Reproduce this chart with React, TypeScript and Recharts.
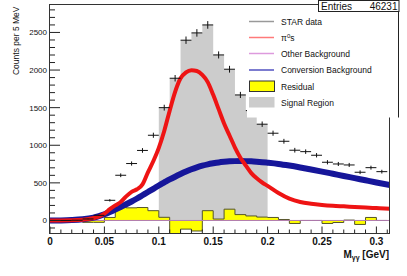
import { ComposedChart, Area, Line, Scatter, ErrorBar, XAxis, YAxis } from "recharts";

const W = 407;
const H = 276;
const FONT = "'Liberation Sans', Arial, Helvetica, sans-serif";

// STAR data: bin centres (GeV), counts per bin, stat. errors
const binCentres = [
  0.005, 0.015, 0.025, 0.035, 0.045, 0.055, 0.065, 0.075, 0.085, 0.095,
  0.105, 0.115, 0.125, 0.135, 0.145, 0.155, 0.165, 0.175, 0.185, 0.195,
  0.205, 0.215, 0.225, 0.235, 0.245, 0.255, 0.265, 0.275, 0.285, 0.295, 0.305,
];
const starCounts = [
  0, 0, 3, 20, 68, 268, 601, 757, 931, 1133,
  1500, 1891, 2397, 2494, 2600, 2201, 2011, 1669, 1461, 1280,
  1160, 1053, 934, 915, 867, 774, 751, 738, 641, 702, 649,
];
const starErrors = [
  0, 0, 2, 4, 8, 16, 25, 28, 31, 34,
  39, 43, 49, 50, 51, 47, 45, 41, 38, 36,
  34, 32, 31, 30, 29, 28, 27, 27, 25, 26, 25,
];
const binHalfWidth = 0.005;

// signal region (0.10 - 0.20 GeV), left bin edges + closing edge
const signalEdges = [0.1, 0.11, 0.12, 0.13, 0.14, 0.15, 0.16, 0.17, 0.18, 0.19, 0.2];
const signalCounts = [1500, 1891, 2397, 2494, 2600, 2201, 2011, 1669, 1461, 1280, 1280];

// residual histogram, left bin edges + closing edge
const residualEdges = [
  0, 0.01, 0.02, 0.03, 0.04, 0.05, 0.06, 0.07, 0.08, 0.09,
  0.1, 0.11, 0.12, 0.13, 0.14, 0.15, 0.16, 0.17, 0.18, 0.19,
  0.2, 0.21, 0.22, 0.23, 0.24, 0.25, 0.26, 0.27, 0.28, 0.29, 0.3, 0.31,
];
const residualCounts = [
  0, 0, 0, -25, -25, 40, 182, 168, 172, 130,
  42, -175, -115, -140, 130, 19, 150, 78, 60, 45,
  40, 13, -40, 0, 0, -40, -27, 5, -53, 40, 0, 0,
];

// fitted curves
const curveX = [
  0, 0.01, 0.02, 0.03, 0.04,
  0.045, 0.05, 0.055, 0.06, 0.065, 0.07, 0.075, 0.08, 0.085, 0.09,
  0.095, 0.1, 0.105, 0.11, 0.115, 0.12, 0.125, 0.13, 0.135, 0.14,
  0.145, 0.15, 0.155, 0.16, 0.165, 0.17, 0.175, 0.18, 0.185, 0.19,
  0.195, 0.2,
  0.21, 0.22, 0.23, 0.24, 0.25, 0.26, 0.27, 0.28, 0.29, 0.3, 0.3125,
];
const pi0Fit = [
  0, 0, 2, 10, 32,
  50, 90, 150, 200, 245, 320, 380, 415, 480, 640,
  790, 965, 1190, 1460, 1710, 1890, 1970, 1998, 1988, 1935,
  1840, 1670, 1480, 1290, 1130, 970, 835, 730, 630, 560,
  505, 460,
  365, 290, 245, 222, 207, 196, 188, 180, 172, 165, 157,
];
const convBkg = [
  0, 1, 5, 15, 38,
  58, 82, 112, 145, 180, 215, 252, 292, 335, 378,
  420, 465, 505, 545, 582, 617, 650, 680, 706, 728,
  746, 760, 772, 780, 786, 789, 790, 789, 786, 781,
  775, 768,
  752, 730, 705, 678, 650, 621, 592, 563, 534, 505, 470,
];
const otherX = [0, 0.3125];
const otherBkg = [0, 0];

// axes
const xTicks = [
  0, 0.01, 0.02, 0.03, 0.04, 0.05, 0.06, 0.07, 0.08, 0.09,
  0.1, 0.11, 0.12, 0.13, 0.14, 0.15, 0.16, 0.17, 0.18, 0.19,
  0.2, 0.21, 0.22, 0.23, 0.24, 0.25, 0.26, 0.27, 0.28, 0.29, 0.3, 0.31,
];
const xMajor = [0, 0.05, 0.1, 0.15, 0.2, 0.25, 0.3];
const xMajorLabels = ["0", "0.05", "0.1", "0.15", "0.2", "0.25", "0.3"];
const yTicks = [
  -100, 0, 100, 200, 300, 400, 500, 600, 700, 800, 900, 1000, 1100, 1200, 1300, 1400,
  1500, 1600, 1700, 1800, 1900, 2000, 2100, 2200, 2300, 2400, 2500, 2600, 2700, 2800,
];
const yMajor = [0, 500, 1000, 1500, 2000, 2500];

const starData = binCentres.map((x, i) => ({ x, y: starCounts[i], ex: binHalfWidth, ey: starErrors[i] }));
const signalData = signalEdges.map((x, i) => ({ x, y: signalCounts[i] }));
const residualData = residualEdges.map((x, i) => ({ x, y: residualCounts[i] }));
const curveData = curveX.map((x, i) => ({ x, pi0: pi0Fit[i], conv: convBkg[i] }));
const otherData = otherX.map((x, i) => ({ x, y: otherBkg[i] }));

function XTick(props: any) {
  const { x, y, payload } = props;
  const idx = xMajor.findIndex((v) => Math.abs(v - payload.value) < 1e-6);
  const major = idx >= 0;
  return (
    <g>
      <line x1={x} x2={x} y1={y - 0.5} y2={y - 0.5 - (major ? 7 : 4)} stroke="#222" />
      {major && (
        <text x={x} y={y + 11} textAnchor="middle" fontSize={10} fontWeight="bold" fill="#111" fontFamily={FONT}>
          {xMajorLabels[idx]}
        </text>
      )}
    </g>
  );
}

function YTick(props: any) {
  const { x, y, payload } = props;
  const major = yMajor.includes(payload.value);
  const ax = x + 3;
  return (
    <g>
      <line x1={ax} x2={ax + (major ? 10 : 5)} y1={y} y2={y} stroke="#222" />
      {major && (
        <text x={x} y={y + 3} textAnchor="end" fontSize={8} fill="#111" fontFamily={FONT}>
          {payload.value}
        </text>
      )}
    </g>
  );
}

const noDot = () => <g />;

export default function App() {
  return (
    <div style={{ position: "absolute", left: 0, top: 0, width: W, height: H, background: "#fff" }}>
      <ComposedChart width={W} height={H} margin={{ top: 5, right: 17, bottom: 0, left: 0 }}>
        <XAxis
          type="number" dataKey="x" domain={[0, 0.3125]} ticks={xTicks} interval={0}
          allowDataOverflow axisLine={false} tickLine={false} tickSize={0} tickMargin={0}
          height={42} tick={<XTick />}
        />
        <YAxis
          type="number" domain={[-180, 2865]} ticks={yTicks} interval={0}
          allowDataOverflow axisLine={false} tickLine={false} tickSize={0} tickMargin={3}
          width={50} tick={<YTick />}
        />
        <Area
          data={signalData} type="stepAfter" dataKey="y" baseValue={0}
          fill="#cccccc" fillOpacity={1} stroke="none" isAnimationActive={false}
        />
        <Area
          data={residualData} type="stepAfter" dataKey="y" baseValue={0}
          fill="#ffff00" fillOpacity={1} stroke="#55552a" strokeWidth={1} isAnimationActive={false}
        />
        <Line
          data={otherData} dataKey="y" type="linear" stroke="#b07ab0" strokeWidth={1}
          dot={false} isAnimationActive={false}
        />
        <Line
          data={curveData} dataKey="conv" type="monotone" stroke="#16169a" strokeWidth={6}
          dot={false} isAnimationActive={false}
        />
        <Line
          data={curveData} dataKey="pi0" type="monotone" stroke="#ee1414" strokeWidth={4}
          dot={false} isAnimationActive={false}
        />
        <Scatter data={starData} dataKey="y" shape={noDot} isAnimationActive={false}>
          <ErrorBar dataKey="ex" direction="x" width={0} stroke="#111" strokeWidth={1} isAnimationActive={false} />
          <ErrorBar dataKey="ey" direction="y" width={0} stroke="#111" strokeWidth={1} isAnimationActive={false} />
        </Scatter>
      </ComposedChart>

      <svg width={W} height={H} style={{ position: "absolute", left: 0, top: 0, pointerEvents: "none" }} fontFamily={FONT}>
        {/* frame */}
        <rect x={49.5} y={4.5} width={340} height={229} fill="none" stroke="#333" />

        {/* axis titles */}
        <text transform="translate(18.5,6.5) rotate(-90)" textAnchor="end" fontSize={8.5} fill="#111">
          Counts per 5 MeV
        </text>
        <text x={389} y={258} textAnchor="end" fontSize={10} fontWeight="bold" fill="#111">
          M<tspan fontSize={7} dy={2}>γγ</tspan>
          <tspan dy={-2}> [GeV]</tspan>
        </text>

        {/* legend */}
        <rect x={247} y={11.5} width={151.5} height={106} fill="#fff" stroke="none" />
        <line x1={398.5} x2={398.5} y1={11} y2={117.5} stroke="#222" />
        <line x1={249} x2={274} y1={21.5} y2={21.5} stroke="#999" strokeWidth={1.5} />
        <line x1={249} x2={274} y1={37.5} y2={37.5} stroke="#ff7a7a" strokeWidth={1.5} />
        <line x1={249} x2={274} y1={53.5} y2={53.5} stroke="#dd9add" strokeWidth={1.5} />
        <line x1={249} x2={274} y1={70} y2={70} stroke="#5050c0" strokeWidth={1.5} />
        <rect x={249.5} y={81} width={25} height={10.5} fill="#ffff00" stroke="#333" />
        <rect x={249} y={97} width={25.5} height={10.5} fill="#cccccc" />
        <g fontSize={8.5} fill="#111">
          <text x={281} y={24.5}>STAR data</text>
          <text x={281} y={40.5}>
            π<tspan fontSize={6} dy={-3}>0</tspan>
            <tspan dy={3}>s</tspan>
          </text>
          <text x={281} y={56.5}>Other Background</text>
          <text x={281} y={73}>Conversion Background</text>
          <text x={281} y={89.5}>Residual</text>
          <text x={281} y={105.5}>Signal Region</text>
        </g>

        {/* stats box */}
        <rect x={318.5} y={0.5} width={80.5} height={11} fill="#fff" stroke="#222" />
        <text x={321} y={9.5} fontSize={10} fill="#111">Entries</text>
        <text x={397.5} y={9.5} fontSize={10} textAnchor="end" fill="#111">46231</text>
      </svg>
    </div>
  );
}
